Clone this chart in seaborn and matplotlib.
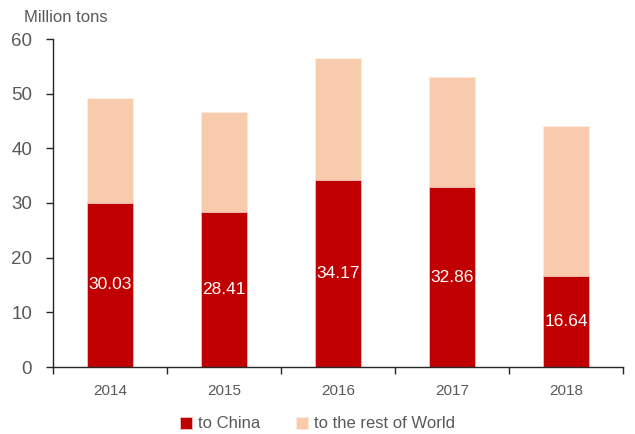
import matplotlib
matplotlib.use("Agg")
import matplotlib.pyplot as plt
import seaborn as sns
import pandas as pd
import numpy as np

years = ["2014", "2015", "2016", "2017", "2018"]
to_china = [30.03, 28.41, 34.17, 32.86, 16.64]
to_rest = [19.2, 18.2, 22.3, 20.1, 27.4]

sns.set_theme(style="white")
plt.rcParams["font.family"] = ["Liberation Sans", "DejaVu Sans"]

gray = "#595959"
red = "#C00000"
peach = "#F8CBAD"

df = pd.DataFrame({"year": years, "to China": to_china, "to the rest of World": to_rest})
df["total"] = df["to China"] + df["to the rest of World"]

fig = plt.figure(figsize=(6.35, 4.34), dpi=100)
ax = fig.add_axes([53 / 635, 1 - 367 / 434, 570 / 635, 328 / 434])

sns.barplot(data=df, x="year", y="total", color=peach, width=0.4, ax=ax,
            saturation=1, label="to the rest of World", linewidth=0.6, edgecolor="#FDEBDD")
sns.barplot(data=df, x="year", y="to China", color=red, width=0.4, ax=ax,
            saturation=1, label="to China", linewidth=0.6, edgecolor="#F2C0C0")

for i, v in enumerate(to_china):
    ax.text(i, v / 2, f"{v:.2f}", ha="center", va="center", color="white", fontsize=12.5)

ax.set_xlim(-0.5, 4.5)
ax.set_ylim(0, 60)
ax.set_yticks(range(0, 61, 10))
ax.set_xlabel("")
ax.set_ylabel("")
for s in ["top", "right"]:
    ax.spines[s].set_visible(False)
for s in ["left", "bottom"]:
    ax.spines[s].set_color("#262626")
    ax.spines[s].set_linewidth(1.0)

ax.set_xticks(np.arange(-0.5, 5, 1), minor=False)
ax.set_xticklabels([])
ax.set_xticks(range(5), minor=True)
ax.set_xticklabels(years, minor=True)
ax.tick_params(axis="x", which="major", direction="out", length=5, color="#262626", width=1)
ax.tick_params(axis="x", which="minor", length=0, pad=12, labelsize=11, labelcolor=gray)
ax.tick_params(axis="y", direction="out", length=5, color="#262626", width=1,
               labelsize=13.5, labelcolor=gray, pad=10)
ax.tick_params(left=True, bottom=True)

fig.text(24 / 635, 1 - 18 / 434, "Million tons", fontsize=12, color=gray,
         va="center", ha="left")

handles, labels = ax.get_legend_handles_labels()
order = [labels.index("to China"), labels.index("to the rest of World")]
ax.legend([handles[k] for k in order], [labels[k] for k in order],
          loc="center", bbox_to_anchor=(0.5, 1 - 424 / 434), bbox_transform=fig.transFigure,
          ncol=2, frameon=False, fontsize=12, labelcolor=gray,
          handlelength=0.7, handleheight=0.7, handletextpad=0.35, columnspacing=2.2)

fig.savefig("out.png", dpi=100)
